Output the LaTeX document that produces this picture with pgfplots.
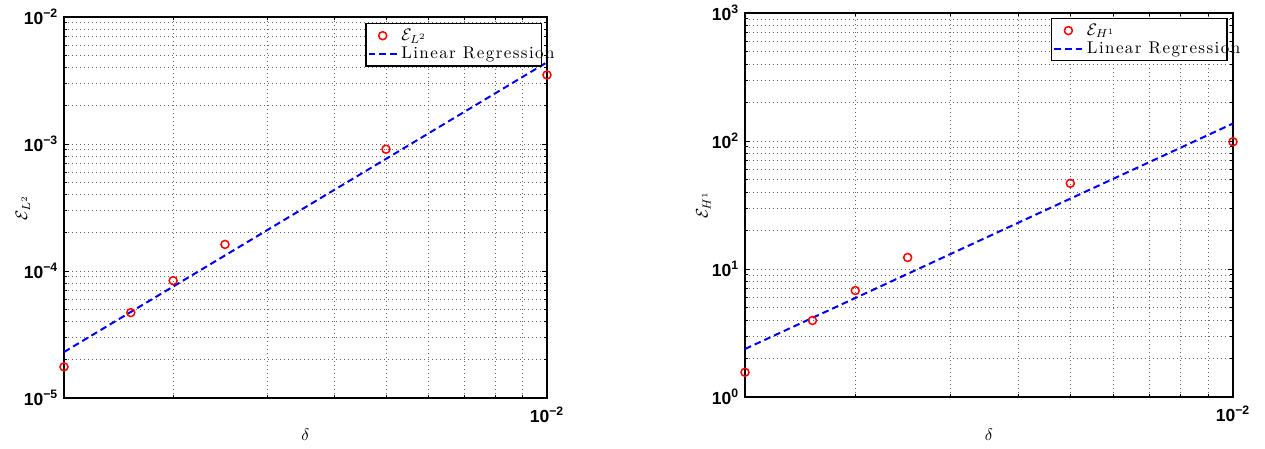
\documentclass[border=0pt]{standalone}
\usepackage{fontspec}
\usepackage{pgfplots}
\pgfplotsset{compat=1.18}
\newfontfamily\tickfont{Liberation Sans}
\newcommand{\tl}[1]{{\tickfont\bfseries 10\textsuperscript{#1}}}
\newcommand{\ls}{\kern0.85pt}
\newcommand{\lr}{\makebox[81pt][l]{L\ls i\ls n\ls e\ls a\ls r\ls\ R\ls e\ls g\ls r\ls e\ls s\ls s\ls i\ls o\ls n}}

\pgfplotstableread{
x y
0.00125 1.76e-5
0.0016667 4.7e-5
0.002 8.4e-5
0.0025 1.62e-4
0.005 9.1e-4
0.01 3.5e-3
}\dataL
\pgfplotstableread{
x y
0.00125 2.3e-5
0.01 4.4e-3
}\fitL
\pgfplotstableread{
x y
0.00125 1.56
0.0016667 3.96
0.002 6.79
0.0025 12.3
0.005 46.7
0.01 98.6
}\dataH
\pgfplotstableread{
x y
0.00125 2.37
0.01 137
}\fitH

\pgfplotsset{
  every axis/.append style={
    scale only axis,
    grid=both,
    major grid style={black!60, line width=0.4pt, dash pattern=on 0.6pt off 1.8pt},
    minor grid style={black!60, line width=0.4pt, dash pattern=on 0.6pt off 1.8pt},
    axis line style={line width=1.05pt},
    tick align=inside,
    major tick length=3pt, minor tick length=1.8pt,
    tick style={black, line width=0.5pt},
    tick label style={font=\fontsize{10.5}{12}\selectfont},
    xticklabel style={yshift=-2pt},
    xlabel style={at={(axis description cs:0.5,-0.097)}, anchor=center, font=\fontsize{10}{12}\selectfont},
    ylabel style={at={(axis description cs:-0.085,0.5)}, anchor=center, font=\fontsize{10}{12}\selectfont},
    legend style={anchor=north east, draw=black, line width=0.8pt, fill=white,
      font=\fontsize{10.2}{10}\selectfont, inner sep=1pt, row sep=-1.5pt},
    legend cell align=left,
  },
}

\begin{document}
\begin{tikzpicture}
\useasboundingbox (0,0) rectangle (759pt,269.4pt);
\begin{axis}[
  xmode=log, ymode=log,
  xmin=0.00125, xmax=0.01,
  xtick={0.01}, xticklabels={\tl{−2}},
  minor xtick={0.002,0.003,0.004,0.005,0.006,0.007,0.008,0.009},
  xlabel={$\delta$},
  at={(38.4pt,30.6pt)}, anchor=south west,
  width=289.8pt, height=228.6pt,
  ymin=1e-5, ymax=1e-2,
  ytick={1e-5,1e-4,1e-3,1e-2},
  yticklabels={\tl{−5},\tl{−4},\tl{−3},\tl{−2}},
  minor ytick={2e-5,3e-5,4e-5,5e-5,6e-5,7e-5,8e-5,9e-5,2e-4,3e-4,4e-4,5e-4,6e-4,7e-4,8e-4,9e-4,2e-3,3e-3,4e-3,5e-3,6e-3,7e-3,8e-3,9e-3},
  ylabel={$\mathcal{E}_{L^2}$},
  legend style={at={(0.9896,0.984)}},
]
\addplot[only marks, mark=o, mark size=2.4pt, color=red, mark options={line width=0.9pt}] table[x=x,y=y] {\dataL};
\addlegendentry{$\mathcal{E}_{L^2}$}
\addplot[no marks, color=blue, line width=1.2pt, dash pattern=on 4pt off 2.4pt] table[x=x,y=y] {\fitL};
\addlegendentry{\lr}
\end{axis}
\begin{axis}[
  xmode=log, ymode=log,
  xmin=0.00125, xmax=0.01,
  xtick={0.01}, xticklabels={\tl{−2}},
  minor xtick={0.002,0.003,0.004,0.005,0.006,0.007,0.008,0.009},
  xlabel={$\delta$},
  at={(447pt,31.2pt)}, anchor=south west,
  width=292.8pt, height=230.4pt,
  ymin=1, ymax=1000,
  ytick={1,10,100,1000},
  yticklabels={\tl{0},\tl{1},\tl{2},\tl{3}},
  minor ytick={2,3,4,5,6,7,8,9,20,30,40,50,60,70,80,90,200,300,400,500,600,700,800,900},
  ylabel={$\mathcal{E}_{H^1}$},
  legend style={at={(0.989,0.987)}},
]
\addplot[only marks, mark=o, mark size=2.4pt, color=red, mark options={line width=0.9pt}] table[x=x,y=y] {\dataH};
\addlegendentry{$\mathcal{E}_{H^1}$}
\addplot[no marks, color=blue, line width=1.2pt, dash pattern=on 4pt off 2.4pt] table[x=x,y=y] {\fitH};
\addlegendentry{\lr}
\end{axis}
\end{tikzpicture}
\end{document}
